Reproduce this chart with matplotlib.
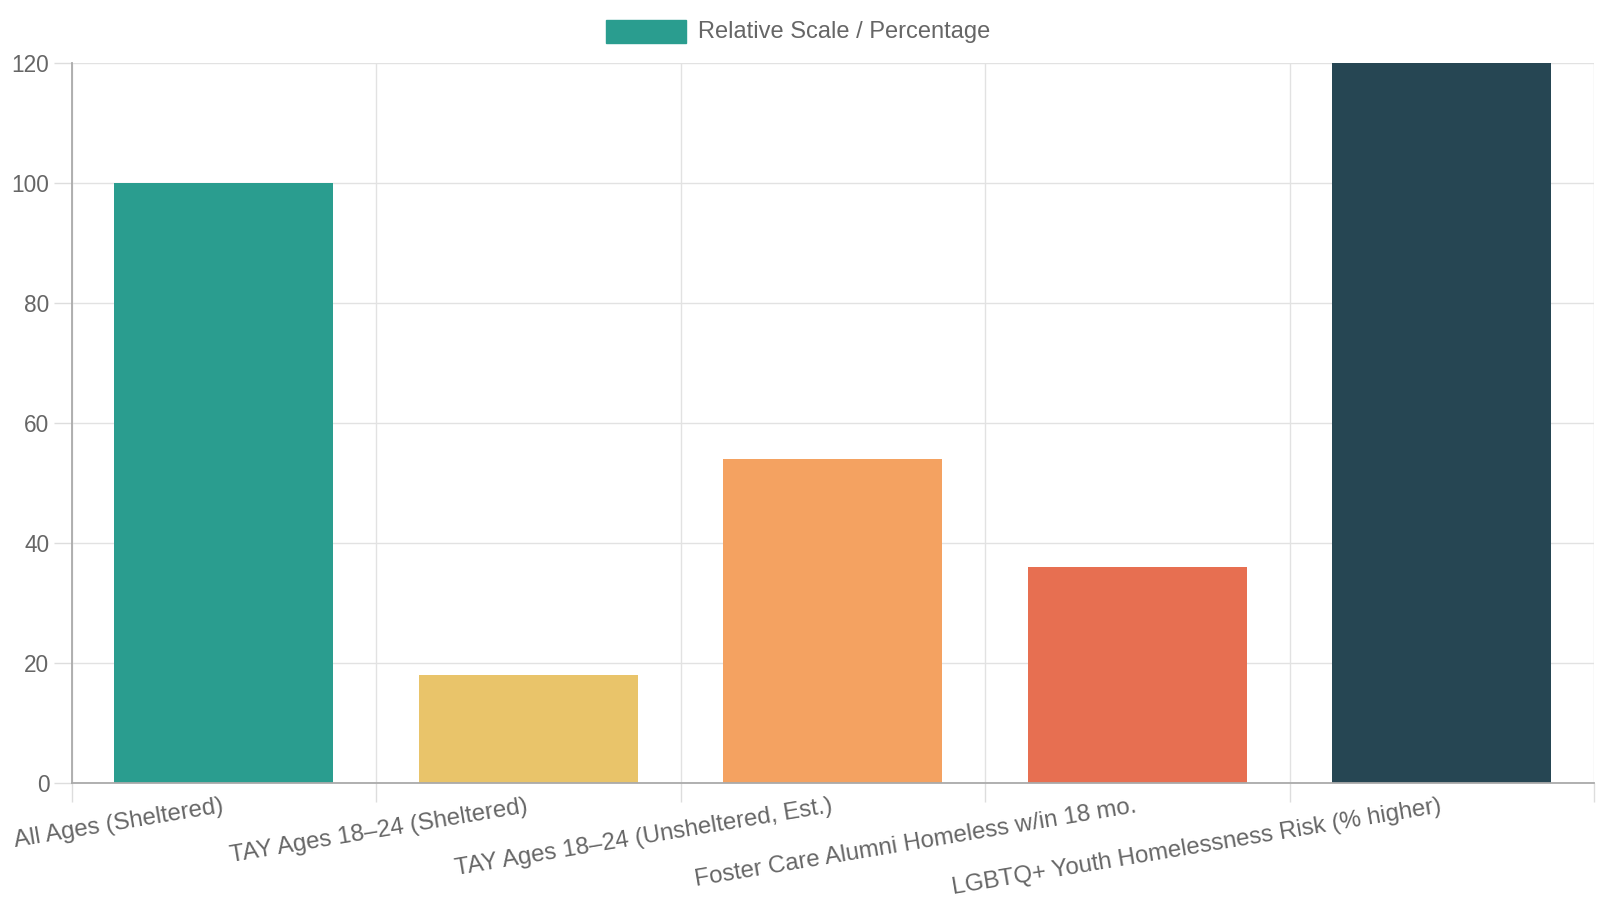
import matplotlib.pyplot as plt
from matplotlib.patches import Rectangle
import numpy as np

categories = ["All Ages (Sheltered)", "TAY Ages 18\u201324 (Sheltered)",
              "TAY Ages 18\u201324 (Unsheltered, Est.)",
              "Foster Care Alumni Homeless w/in 18 mo.",
              "LGBTQ+ Youth Homelessness Risk (% higher)"]
values = [100, 18, 54, 36, 120]
colors = ["#2A9D8F", "#E9C46A", "#F4A261", "#E76F51", "#264653"]
yticks = [0, 20, 40, 60, 80, 100, 120]
legend_label = "Relative Scale / Percentage"

plt.rcParams['font.family'] = ['Liberation Sans', 'DejaVu Sans']
text_col = "#666666"

fig = plt.figure(figsize=(16, 9), dpi=100)
ax = fig.add_axes([71.5/1600, 1 - 783/900, 1522.5/1600, 720/900])

x = np.arange(len(categories))
ax.bar(x, values, width=0.72, color=colors, zorder=2)

ax.set_xlim(-0.5, len(categories) - 0.5)
ax.set_ylim(0, 120)
ax.set_yticks(yticks)
ax.set_yticklabels([str(v) for v in yticks], fontsize=16.3, color=text_col)

# labels sit slightly left of the bar centres, like Chart.js
ax.set_xticks(x - 0.008)
ax.set_xticklabels(categories, fontsize=17.3, color=text_col, rotation=9.5,
                   ha='right', rotation_mode='anchor', va='top')
ax.tick_params(axis='x', which='major', length=0, pad=9)
ax.set_xticks(np.arange(len(categories) + 1) - 0.5, minor=True)
ax.tick_params(axis='x', which='minor', length=14, color='#dddddd', width=1)
ax.tick_params(axis='y', length=13, color='#dddddd', width=1, pad=3)

ax.grid(True, which='minor', axis='x', color='#e2e2e2', lw=1, zorder=0)
ax.grid(True, which='major', axis='y', color='#e2e2e2', lw=1, zorder=0)
ax.set_axisbelow(True)

for s in ['top', 'right']:
    ax.spines[s].set_visible(False)
ax.spines['left'].set_color('#aaaaaa')
ax.spines['bottom'].set_color('#aaaaaa')
ax.spines['left'].set_linewidth(1.3)
ax.spines['bottom'].set_linewidth(1.3)

# legend like Chart.js
fig.patches.append(Rectangle((606/1600, 1 - 43/900), 80/1600, 23/900,
                             transform=fig.transFigure, color=colors[0]))
fig.text(698/1600, 1 - 32/900, legend_label, fontsize=17, color=text_col,
         va='center', ha='left')

fig.savefig("out.png", dpi=100)
